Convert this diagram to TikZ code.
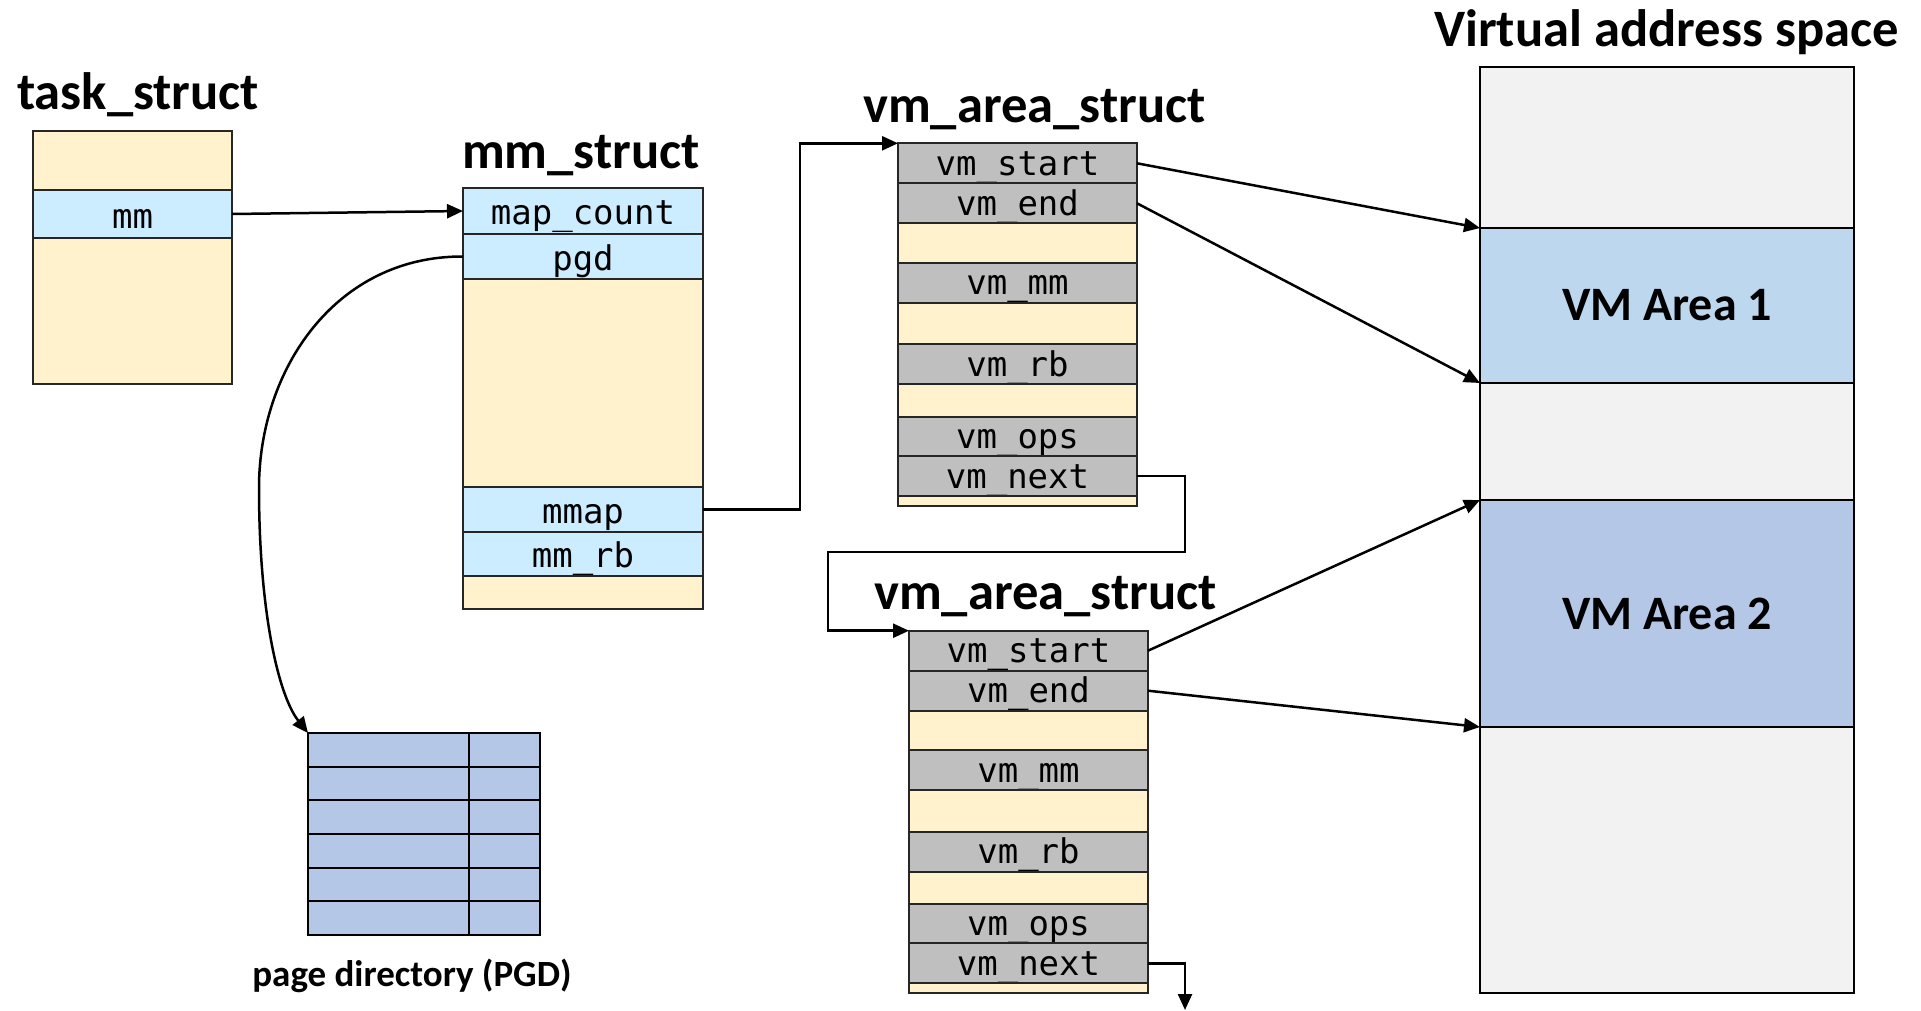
\documentclass[tikz,border=0pt]{standalone}
\usepackage{fontspec}
\setmainfont{Carlito}
\newfontfamily\monof{DejaVu Sans Mono}
\usetikzlibrary{arrows.meta}
\definecolor{cyel}{HTML}{FFF2CC}
\definecolor{cblu}{HTML}{CCECFF}
\definecolor{cgry}{HTML}{BFBFBF}
\definecolor{cva}{HTML}{F2F2F2}
\definecolor{cvaone}{HTML}{BDD7EE}
\definecolor{cvatwo}{HTML}{B4C7E7}
\definecolor{cpgd}{HTML}{B4C7E7}
\tikzset{
  fld/.style={draw=black!85, line width=0.95pt, inner sep=0pt, outer sep=0pt,
    font=\monof\fontsize{17}{20}\selectfont, anchor=north west},
  ttl/.style={font=\bfseries\fontsize{26.3}{30}\selectfont, anchor=base, inner sep=0pt},
  vabox/.style={draw=black, line width=1.25pt, inner sep=0pt, outer sep=0pt, anchor=north west,
    font=\bfseries\fontsize{24}{28}\selectfont},
  pgdc/.style={draw=black, line width=1.1pt, fill=cpgd, inner sep=0pt, outer sep=0pt, anchor=north west,
    minimum height=16.83pt},
  arr/.style={line width=1.25pt, -{Triangle[length=8pt,width=7pt]}},
}
% name, x, y(top), width px, height px, fill, text
\newcommand\fieldrow[7]{%
  \node[fld, fill=#6, minimum width=#4*0.5pt, minimum height=#5*0.5pt,
        text height=#5*0.4pt, text depth=#5*0.1pt] (#1) at (#2,#3) {#7};}
\newcommand\vmarows[3]{%
  \fieldrow{#1start}{#2}{#3}{239}{40}{cgry}{vm\_start}
  \fieldrow{#1end}{#2}{#3+40}{239}{40}{cgry}{vm\_end}
  \fieldrow{#1ya}{#2}{#3+80}{239}{39.4}{cyel}{}
  \fieldrow{#1mm}{#2}{#3+119.4}{239}{40}{cgry}{vm\_mm}
  \fieldrow{#1yb}{#2}{#3+159.4}{239}{41.6}{cyel}{}
  \fieldrow{#1rb}{#2}{#3+201}{239}{40}{cgry}{vm\_rb}
  \fieldrow{#1yc}{#2}{#3+241}{239}{32.4}{cyel}{}
  \fieldrow{#1ops}{#2}{#3+273.4}{239}{39.3}{cgry}{vm\_ops}
  \fieldrow{#1next}{#2}{#3+312.7}{239}{40}{cgry}{vm\_next}
  \fieldrow{#1yd}{#2}{#3+352.7}{239}{10}{cyel}{}
}
\begin{document}
\begin{tikzpicture}[x=0.5pt,y=-0.5pt]
\fill[white] (0,0) rectangle (1921,1011);
\useasboundingbox (0,0) rectangle (1921,1011);

% titles
\node[ttl] (tstitle) at (138,110) {task\_struct};
\node[ttl] (mmtitle) at (581,169) {mm\_struct};
\node[ttl] (vatitle) at (1034.5,122.5) {vm\_area\_struct};
\node[ttl] (vbtitle) at (1045.5,609) {vm\_area\_struct};
\node[ttl] (vastitle) at (1666.5,47) {Virtual address space};

% task_struct
\fieldrow{tsa}{33}{131}{199}{59}{cyel}{}
\fieldrow{tsmm}{33}{190}{199}{48}{cblu}{mm}
\fieldrow{tsb}{33}{238}{199}{146}{cyel}{}

% mm_struct
\fieldrow{mmcount}{463}{188}{240}{46}{cblu}{map\_count}
\fieldrow{mmpgd}{463}{234}{240}{45}{cblu}{pgd}
\fieldrow{mmya}{463}{279}{240}{208}{cyel}{}
\fieldrow{mmmap}{463}{487}{240}{45}{cblu}{mmap}
\fieldrow{mmrb}{463}{532}{240}{44}{cblu}{mm\_rb}
\fieldrow{mmyb}{463}{576}{240}{33}{cyel}{}

% vm_area_structs
\vmarows{va}{898}{143.3}
\vmarows{vb}{909}{630.7}

% virtual address space
\node[vabox, fill=cva, minimum width=187pt, minimum height=463pt] (vas) at (1480,67) {};
\node[vabox, fill=cvaone, minimum width=187pt, minimum height=77.5pt] (vaone) at (1480,228) {VM Area 1};
\node[vabox, fill=cvatwo, minimum width=187pt, minimum height=113.5pt] (vatwo) at (1480,500) {VM Area 2};

% page directory
\foreach \i in {0,...,5}{
  \node[pgdc, minimum width=80.5pt] (pgdL\i) at (308,733+\i*33.67) {};
  \node[pgdc, minimum width=35.5pt] (pgdR\i) at (469,733+\i*33.67) {};
}
\node[font=\bfseries\fontsize{18.5}{22}\selectfont, anchor=base, inner sep=0pt] (pgdlabel) at (412,986) {page directory (PGD)};

% connectors
\draw[arr] (tsmm.east) -- (mmcount.west);
\draw[arr] (mmpgd.west) .. controls (335,256) and (259,370) .. (259,488)
  .. controls (259,610) and (278,695) .. (pgdL0.north west);
\draw[arr] (mmmap.east) -- ++(97,0) |- (vastart.north west);
\draw[arr] (vastart.east) -- (vaone.north west);
\draw[arr] (vaend.east) -- (vaone.south west);
\coordinate (turnA) at (1185,552);
\coordinate (turnB) at (828,552);
\draw[arr] (vanext.east) -| (turnA) -- (turnB) |- (vbstart.north west);
\draw[arr] (vbstart.east) -- (vatwo.north west);
\draw[arr] (vbend.east) -- (vatwo.south west);
\coordinate (vbout) at (1185,1010);
\draw[arr] (vbnext.east) -| (vbout);
\end{tikzpicture}
\end{document}
